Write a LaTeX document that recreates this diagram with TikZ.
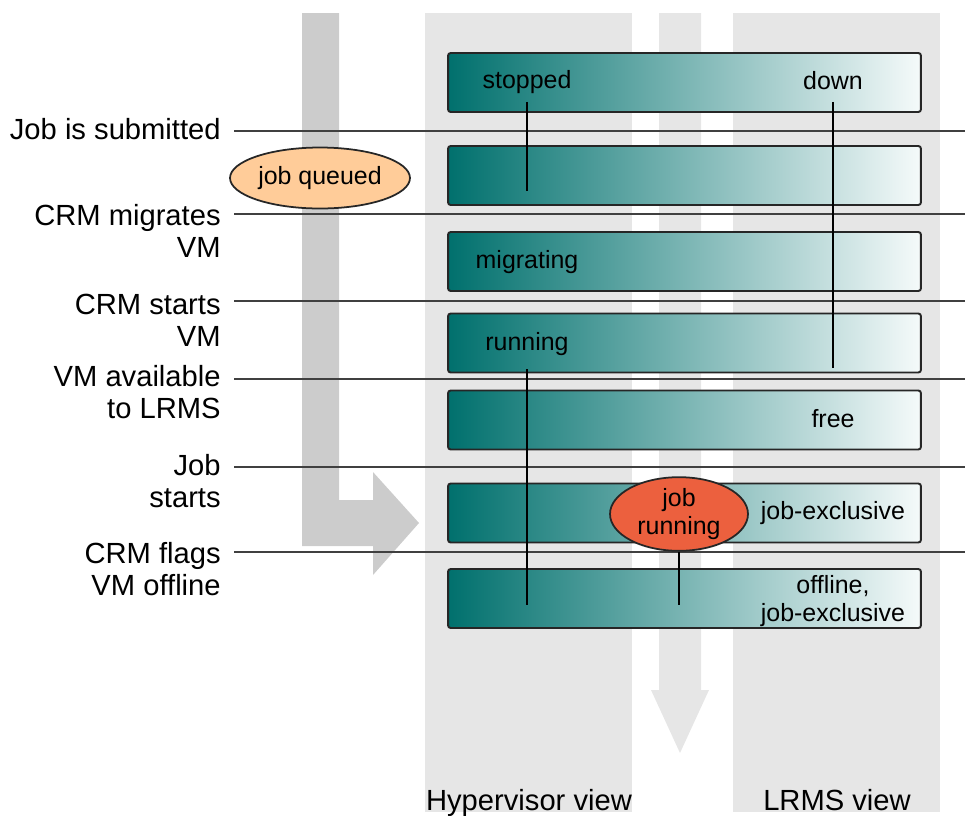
\documentclass[tikz,border=0pt]{standalone}
\usepackage{fontspec}
\setmainfont{Liberation Sans}
\usetikzlibrary{shapes.geometric}

\definecolor{colgray}{HTML}{E6E6E6}
\definecolor{arrowgray}{HTML}{CCCCCC}
\definecolor{tealdark}{HTML}{00706D}
\definecolor{teallight}{HTML}{F5FAFA}
\definecolor{queued}{HTML}{FFCC99}
\definecolor{runred}{HTML}{EC603E}

\begin{document}
\begin{tikzpicture}[x=0.02cm,y=-0.02cm,
    every node/.style={inner sep=0pt},
    event/.style={font=\fontsize{16.6}{18.2}\selectfont,align=right,anchor=base east},
    timeline/.style={draw=black!75,line width=1.3pt},
    state/.style={draw=black!85,line width=1.1pt,rounded corners=1.5pt,left color=tealdark,right color=teallight,minimum width=9.46cm,minimum height=1.18cm},
    statetext/.style={font=\fontsize{14.2}{16.2}\selectfont,align=center},
    tick/.style={draw=black,line width=1.2pt},
    phase/.style={draw=black!85,line width=1pt,shape=ellipse,font=\fontsize{14.2}{16.4}\selectfont,align=center}]
    \useasboundingbox (0,0) rectangle (965,816);

    % views
    \fill[colgray] (425,13) rectangle (632,812);
    \fill[colgray] (733,13) rectangle (940,812);
    \fill[colgray] (659,13) -- (701,13) -- (701,690) -- (709,690) -- (680,753) -- (651,690) -- (659,690) -- cycle;
    \fill[arrowgray] (302,13) -- (339,13) -- (339,500) -- (373,500) -- (373,472) -- (419,523) -- (373,575) -- (373,546) -- (302,546) -- cycle;

    % events
    \node[event] (submit) at (221,139) {Job is submitted};
    \node[event] (migrate) at (221,257) {CRM migrates\\VM};
    \node[event] (start) at (221,346) {CRM starts\\VM};
    \node[event] (avail) at (221,418) {VM available\\to LRMS};
    \node[event] (jstart) at (221,507) {Job\\starts};
    \node[event] (flag) at (221,595) {CRM flags\\VM offline};

    \coordinate (t1a) at (234,131); \coordinate (t1b) at (965,131);
    \coordinate (t2a) at (234,214); \coordinate (t2b) at (965,214);
    \coordinate (t3a) at (234,301); \coordinate (t3b) at (965,301);
    \coordinate (t4a) at (234,379); \coordinate (t4b) at (965,379);
    \coordinate (t5a) at (234,467); \coordinate (t5b) at (965,467);
    \coordinate (t6a) at (234,552); \coordinate (t6b) at (965,552);
    \draw[timeline] (t1a) -- (t1b);
    \draw[timeline] (t2a) -- (t2b);
    \draw[timeline] (t3a) -- (t3b);
    \draw[timeline] (t4a) -- (t4b);
    \draw[timeline] (t5a) -- (t5b);
    \draw[timeline] (t6a) -- (t6b);

    % states
    \node[state] (s1) at (684.5,82.5) {};
    \node[state] (s2) at (684.5,175.5) {};
    \node[state] (s3) at (684.5,261.5) {};
    \node[state] (s4) at (684.5,343) {};
    \node[state] (s5) at (684.5,420) {};
    \node[state] (s6) at (684.5,513) {};
    \node[state] (s7) at (684.5,598.5) {};

    \node[statetext] (stopped) at (527,82) {stopped};
    \node[statetext] (down) at (833,81) {down};
    \node[statetext] (migrating) at (527,262) {migrating};
    \node[statetext] (running) at (527,344) {running};
    \node[statetext] (free) at (833,419) {free};
    \node[statetext] (jobexcl) at (833,513) {job-exclusive};
    \node[statetext] (offline) at (833,601) {offline,\\job-exclusive};

    \coordinate (stopend) at (527,191);
    \coordinate (downend) at (833,368);
    \coordinate (runend) at (527,605);
    \coordinate (jobend) at (679,605);
    \draw[tick,shorten <=4.5pt] (stopped.south) -- (stopend);
    \draw[tick,shorten <=6.5pt] (down.south) -- (downend);
    \draw[tick,shorten <=7.5pt] (running.south) -- (runend);

    \node[phase,fill=queued,minimum width=3.6cm,minimum height=1.22cm] (queued) at (320,178) {job queued};
    \node[phase,fill=runred,minimum width=2.76cm,minimum height=1.34cm] (jobrun) at (679,514) {job\\running};
    \draw[tick] (jobrun.south) -- (jobend);

    % views
    \node[font=\fontsize{16.6}{18.2}\selectfont,anchor=base] (hyper) at (529,810) {Hypervisor view};
    \node[font=\fontsize{16.6}{18.2}\selectfont,anchor=base] (lrms) at (837,810) {LRMS view};
\end{tikzpicture}
\end{document}
